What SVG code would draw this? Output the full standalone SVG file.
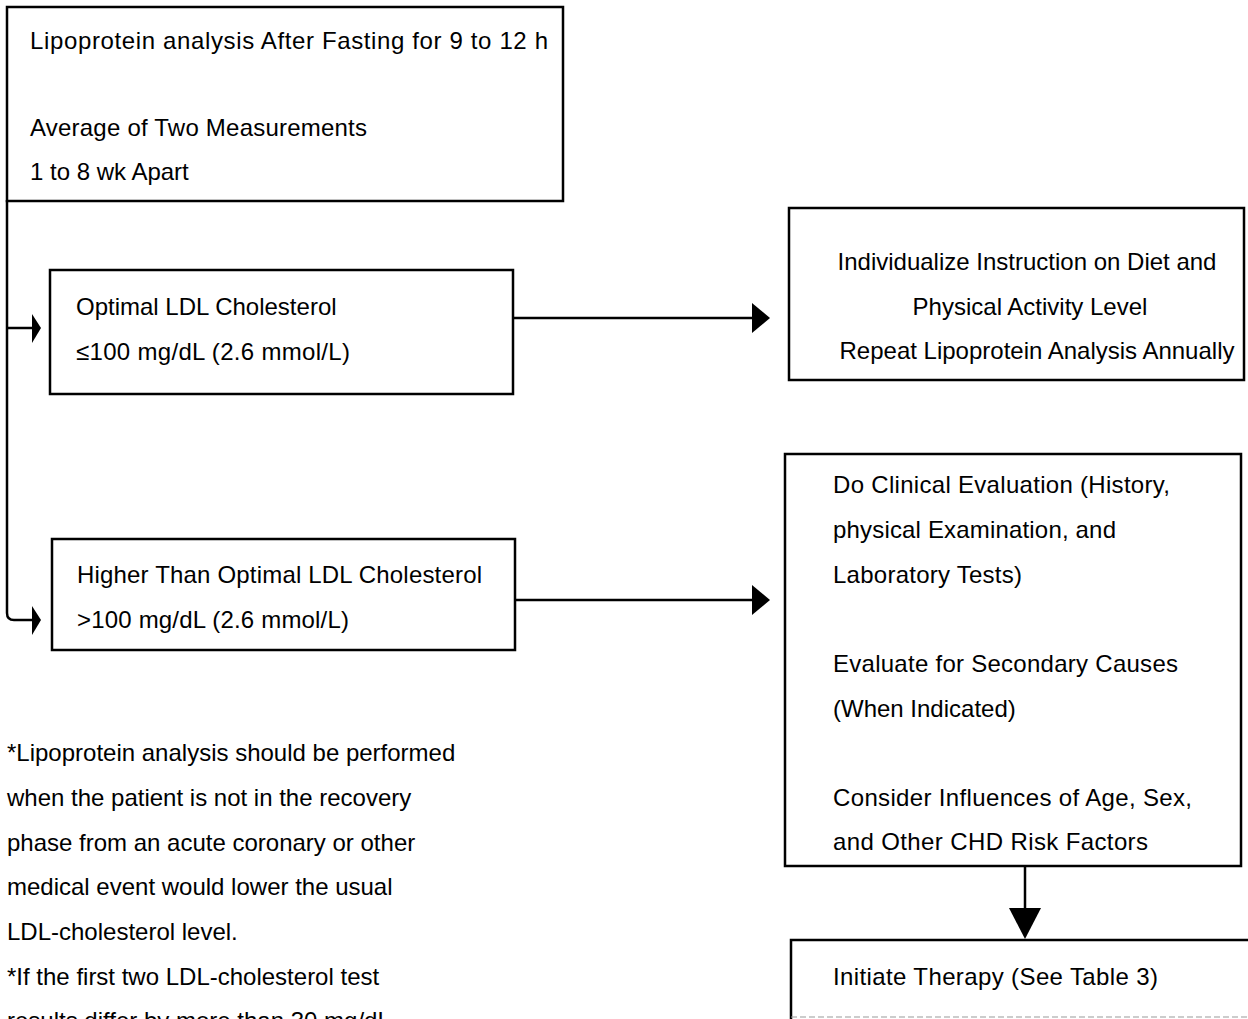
<svg xmlns="http://www.w3.org/2000/svg" width="1248" height="1019" viewBox="0 0 1248 1019">
<style>
.box{fill:#fff;stroke:#000;stroke-width:2.5}
.t{font-family:"Liberation Sans",Arial,sans-serif;font-size:24px;fill:#000}
.c{text-anchor:middle}
.ln{fill:none;stroke:#000;stroke-width:2.5}
.ah{fill:#000;stroke:none}
</style>
<rect width="1248" height="1019" fill="#fff"/>
<g id="connectors">
  <path class="ln" d="M7,200 V613 Q7,620 14,620 H34"/>
  <path class="ln" d="M7,328 H34"/>
  <polygon class="ah" points="32,314 41,328 32,343"/>
  <polygon class="ah" points="32,606 41,620 32,635"/>
  <path class="ln" d="M513,318 H754"/>
  <polygon class="ah" points="752,303 770,318 752,333"/>
  <path class="ln" d="M515,600 H754"/>
  <polygon class="ah" points="752,585 770,600 752,615"/>
  <path class="ln" d="M1025,866 V910"/>
  <polygon class="ah" points="1009,908 1041,908 1025,939"/>
</g>
<g id="n1">
  <rect class="box" x="7" y="7" width="556" height="194"/>
  <text class="t" x="30" y="49" textLength="518" lengthAdjust="spacing">Lipoprotein analysis After Fasting for 9 to 12 h</text>
  <text class="t" x="30" y="136" textLength="337" lengthAdjust="spacing">Average of Two Measurements</text>
  <text class="t" x="30" y="180">1 to 8 wk Apart</text>
</g>
<g id="n2">
  <rect class="box" x="50" y="270" width="463" height="124"/>
  <text class="t" x="76" y="315">Optimal LDL Cholesterol</text>
  <text class="t" x="76" y="360" textLength="274" lengthAdjust="spacing">≤100 mg/dL (2.6 mmol/L)</text>
</g>
<g id="n3">
  <rect class="box" x="52" y="539" width="463" height="111"/>
  <text class="t" x="77" y="583" textLength="405" lengthAdjust="spacing">Higher Than Optimal LDL Cholesterol</text>
  <text class="t" x="77" y="628" textLength="272" lengthAdjust="spacing">&gt;100 mg/dL (2.6 mmol/L)</text>
</g>
<g id="n4">
  <rect class="box" x="789" y="208" width="455" height="172"/>
  <text class="t c" x="1027" y="270">Individualize Instruction on Diet and</text>
  <text class="t c" x="1030" y="315">Physical Activity Level</text>
  <text class="t c" x="1037" y="359">Repeat Lipoprotein Analysis Annually</text>
</g>
<g id="n5">
  <rect class="box" x="785" y="454" width="456" height="412"/>
  <text class="t" x="833" y="493" textLength="337" lengthAdjust="spacing">Do Clinical Evaluation (History,</text>
  <text class="t" x="833" y="538" textLength="283" lengthAdjust="spacing">physical Examination, and</text>
  <text class="t" x="833" y="583" textLength="189" lengthAdjust="spacing">Laboratory Tests)</text>
  <text class="t" x="833" y="672" textLength="345" lengthAdjust="spacing">Evaluate for Secondary Causes</text>
  <text class="t" x="833" y="717">(When Indicated)</text>
  <text class="t" x="833" y="806" textLength="359" lengthAdjust="spacing">Consider Influences of Age, Sex,</text>
  <text class="t" x="833" y="850" textLength="315" lengthAdjust="spacing">and Other CHD Risk Factors</text>
</g>
<g id="n6">
  <path class="ln" d="M791,1019 V940 H1250"/>
  <path d="M791,1017 H1248" fill="none" stroke="#999" stroke-width="1.2" stroke-dasharray="6,3"/>
  <text class="t" x="833" y="985" textLength="325" lengthAdjust="spacing">Initiate Therapy (See Table 3)</text>
</g>
<g id="footnotes">
  <text class="t" x="7" y="761">*Lipoprotein analysis should be performed</text>
  <text class="t" x="7" y="806">when the patient is not in the recovery</text>
  <text class="t" x="7" y="851">phase from an acute coronary or other</text>
  <text class="t" x="7" y="895">medical event would lower the usual</text>
  <text class="t" x="7" y="940">LDL-cholesterol level.</text>
  <text class="t" x="7" y="985">*If the first two LDL-cholesterol test</text>
  <text class="t" x="7" y="1029">results differ by more than 30 mg/dL</text>
</g>
</svg>
